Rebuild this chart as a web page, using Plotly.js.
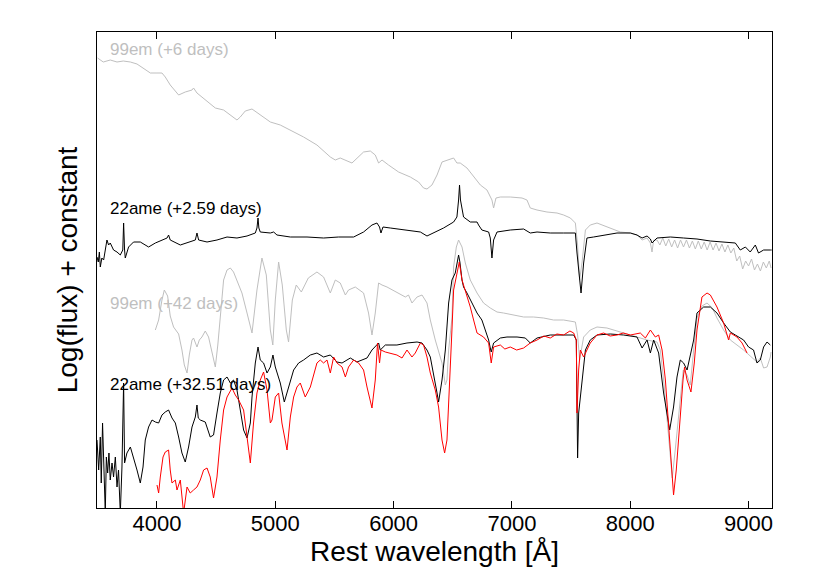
<!DOCTYPE html>
<html>
<head>
<meta charset="utf-8">
<script src="https://cdn.plot.ly/plotly-3.0.1.min.js"></script>
<style>html,body{margin:0;padding:0;background:#fff;}#chart{width:830px;height:581px;}</style>
</head>
<body>
<div id="chart"></div>
<script>
// SN 1999em (+6 days)
const wl_99em_6d = [3498,3546,3605,3662,3715,3775,3831,3884,3944,4000,4042,4070,4112,4183,4239,4296,4309,4338,4408,4493,4563,4620,4676,4704,4746,4803,4873,4958,5042,5127,5239,5352,5465,5507,5549,5648,5690,5746,5803,5845,5873,5902,5957,6042,6141,6211,6253,6282,6324,6367,6409,6451,6507,6535,6563,6620,6676,6733,6789,6831,6845,6865,6902,6986,7085,7127,7155,7212,7296,7381,7437,7494,7536,7555,7572,7593,7621,7662,7719,7831,7916,8001,8057,8100,8142,8170,8184,8198,8226,8250,8275,8300,8325,8350,8375,8400,8425,8450,8475,8500,8525,8550,8575,8600,8625,8650,8675,8700,8725,8750,8775,8800,8825,8850,8875,8900,8925,8950,8975,9000,9025,9050,9075,9100,9125,9150,9175,9190];
const flux_99em_6d = [4.50,4.46,4.48,4.46,4.47,4.46,4.44,4.40,4.35,4.35,4.35,4.31,4.23,4.13,4.16,4.18,4.20,4.15,4.08,4.00,3.98,3.93,3.88,3.91,3.97,3.99,3.93,3.86,3.83,3.78,3.71,3.63,3.51,3.48,3.50,3.45,3.50,3.56,3.57,3.53,3.45,3.48,3.43,3.36,3.31,3.26,3.20,3.19,3.23,3.33,3.46,3.48,3.50,3.45,3.45,3.40,3.31,3.23,3.18,3.08,3.00,3.10,3.11,3.11,3.10,3.08,3.00,2.98,2.96,2.95,2.93,2.90,2.85,2.63,2.28,2.46,2.78,2.83,2.85,2.80,2.76,2.75,2.73,2.68,2.70,2.65,2.56,2.68,2.68,2.63,2.70,2.62,2.69,2.61,2.68,2.60,2.68,2.61,2.68,2.60,2.67,2.59,2.67,2.59,2.66,2.58,2.66,2.58,2.65,2.57,2.64,2.56,2.63,2.55,2.60,2.47,2.52,2.39,2.47,2.42,2.49,2.38,2.44,2.37,2.46,2.40,2.47,2.40];

// SN 2022ame (+2.59 days)
const wl_22ame_259d = [3493,3504,3513,3521,3534,3549,3577,3591,3605,3633,3662,3690,3711,3718,3726,3732,3760,3802,3859,3929,3986,4042,4085,4098,4112,4197,4281,4324,4338,4352,4423,4507,4592,4676,4761,4831,4845,4854,4861,4873,4958,4986,5014,5127,5268,5408,5535,5662,5746,5817,5859,5881,5893,5910,5972,6084,6226,6282,6338,6422,6507,6535,6549,6557,6565,6572,6580,6591,6648,6705,6718,6746,6803,6817,6831,6845,6874,6986,7099,7155,7212,7324,7437,7536,7550,7572,7584,7606,7634,7690,7775,7888,8001,8057,8100,8142,8170,8184,8226,8339,8451,8564,8677,8789,8888,8930,8973,9014,9057,9084,9127,9184,9195];
const flux_22ame_259d = [2.51,2.46,2.56,2.41,2.50,2.48,2.68,2.63,2.65,2.58,2.56,2.53,2.58,2.85,2.58,2.50,2.61,2.66,2.66,2.61,2.65,2.68,2.70,2.73,2.68,2.63,2.66,2.68,2.75,2.68,2.66,2.68,2.71,2.70,2.72,2.75,2.80,2.90,2.80,2.76,2.75,2.76,2.73,2.71,2.71,2.70,2.71,2.71,2.76,2.83,2.85,2.81,2.75,2.81,2.80,2.78,2.76,2.72,2.75,2.80,2.86,2.91,3.08,3.23,3.08,3.03,3.00,2.91,2.86,2.86,2.83,2.78,2.76,2.70,2.50,2.68,2.76,2.78,2.79,2.75,2.76,2.75,2.75,2.75,2.55,2.28,2.15,2.45,2.70,2.71,2.73,2.75,2.75,2.73,2.70,2.72,2.69,2.65,2.70,2.71,2.70,2.69,2.67,2.66,2.65,2.58,2.61,2.56,2.63,2.55,2.58,2.58,2.58];

// SN 1999em (+42 days)
const wl_99em_42d = [3986,4014,4042,4062,4090,4112,4140,4183,4211,4231,4254,4273,4296,4309,4338,4358,4380,4408,4436,4459,4493,4514,4535,4563,4592,4620,4647,4676,4718,4761,4803,4845,4887,4924,4958,4979,5000,5028,5059,5093,5112,5144,5177,5220,5279,5352,5408,5465,5507,5549,5592,5619,5676,5746,5788,5817,5845,5873,5902,5944,6028,6099,6126,6155,6198,6240,6282,6310,6352,6409,6437,6451,6465,6493,6507,6530,6549,6578,6606,6648,6705,6760,6817,6874,6929,7014,7099,7183,7268,7352,7437,7536,7555,7572,7593,7606,7662,7719,7803,7916,8057,8142,8226,8254,8282,8322,8355,8380,8414,8448,8480,8507,8536,8564,8606,8649,8694,8733,8789,8846,8902,8958,9014,9071,9099,9127,9156,9184,9190];
const flux_99em_42d = [1.78,1.88,2.08,2.18,2.12,1.92,1.81,1.74,1.58,1.43,1.35,1.53,1.68,1.70,1.61,1.68,1.71,1.77,1.71,1.60,1.41,1.63,1.95,2.28,2.38,2.40,2.36,2.28,2.15,1.95,1.75,2.18,2.50,2.33,1.78,1.63,2.08,2.46,2.23,1.78,1.66,2.08,2.23,2.16,2.30,2.36,2.31,2.15,2.28,2.25,2.13,2.18,2.21,2.15,1.95,1.73,1.95,2.25,2.23,2.21,2.16,2.11,2.13,2.05,2.11,2.13,2.05,1.88,1.68,1.45,1.23,1.28,1.58,1.90,2.41,2.61,2.68,2.61,2.45,2.28,2.15,2.05,2.00,1.96,1.95,1.93,1.91,1.91,1.90,1.88,1.88,1.86,1.73,1.48,1.63,1.71,1.78,1.81,1.80,1.76,1.71,1.68,1.66,1.58,1.28,0.78,0.30,0.58,0.98,1.38,1.33,1.23,1.58,1.90,2.02,2.05,2.00,1.90,1.78,1.68,1.63,1.58,1.52,1.46,1.50,1.40,1.41,1.51,1.56];

// SN 2022ame (+32.51 days)
const wl_22ame_3251d = [3493,3507,3521,3529,3540,3549,3563,3572,3583,3594,3605,3620,3633,3648,3662,3675,3690,3704,3718,3726,3746,3775,3802,3831,3859,3882,3901,3929,3958,3986,4014,4042,4070,4098,4127,4155,4183,4211,4239,4267,4296,4324,4338,4349,4366,4408,4450,4478,4507,4535,4563,4592,4620,4647,4676,4704,4732,4761,4789,4803,4831,4854,4873,4901,4930,4958,4980,5000,5042,5076,5112,5155,5197,5239,5296,5352,5408,5465,5521,5564,5634,5690,5775,5817,5873,5887,5930,6028,6113,6198,6240,6282,6310,6338,6367,6380,6409,6437,6465,6493,6521,6549,6560,6578,6591,6620,6662,6705,6746,6775,6803,6817,6825,6845,6902,6958,7043,7113,7155,7212,7324,7437,7522,7544,7555,7564,7578,7593,7621,7662,7719,7831,7944,8057,8100,8142,8170,8198,8240,8282,8311,8333,8366,8395,8423,8451,8480,8507,8536,8564,8620,8677,8733,8789,8846,8888,8958,9000,9042,9071,9099,9127,9156,9184];
const flux_22ame_3251d = [0.68,0.38,0.71,0.25,0.85,0.45,-0.05,0.51,0.35,0.55,0.28,0.45,0.31,0.51,0.21,0.38,-0.05,0.41,1.25,0.45,0.55,0.61,0.51,0.38,0.25,0.41,0.68,0.81,0.88,0.86,0.85,0.93,0.96,0.98,0.90,0.85,0.71,0.55,0.46,0.61,0.81,0.91,1.03,0.90,0.88,0.86,0.71,0.73,0.95,1.15,1.28,1.31,1.25,1.28,1.18,0.98,0.78,0.70,0.85,1.11,1.45,1.61,1.48,1.45,1.35,1.41,1.53,1.41,1.25,1.06,1.21,1.38,1.45,1.48,1.53,1.55,1.51,1.53,1.46,1.45,1.50,1.46,1.50,1.58,1.65,1.58,1.63,1.63,1.65,1.66,1.65,1.58,1.51,1.35,1.15,1.06,1.28,1.58,2.05,2.28,2.35,2.53,2.46,2.28,2.21,2.15,2.05,1.95,1.88,1.78,1.68,1.60,1.56,1.65,1.70,1.71,1.71,1.70,1.65,1.70,1.73,1.73,1.73,1.68,0.50,0.95,1.11,1.28,1.58,1.68,1.73,1.74,1.73,1.71,1.60,1.68,1.55,1.68,1.55,1.15,0.91,0.78,1.01,1.31,1.48,1.45,1.38,1.51,1.68,1.95,2.01,2.01,1.95,1.85,1.76,1.73,1.68,1.61,1.58,1.45,1.48,1.61,1.66,1.63];

// comparison spectrum (red)
const wl_red = [4000,4014,4028,4051,4070,4098,4112,4127,4155,4169,4197,4225,4254,4281,4309,4338,4366,4394,4423,4450,4478,4507,4535,4563,4592,4634,4662,4690,4732,4761,4789,4816,4845,4873,4901,4930,4958,4972,5000,5028,5056,5099,5127,5155,5183,5211,5253,5296,5352,5380,5408,5437,5465,5493,5521,5564,5592,5619,5662,5704,5746,5775,5817,5845,5864,5881,5893,5930,5972,6028,6071,6113,6155,6183,6226,6253,6282,6310,6352,6380,6409,6431,6451,6465,6493,6507,6535,6555,6578,6606,6648,6676,6705,6760,6803,6825,6845,6902,6940,6986,7040,7099,7155,7212,7270,7324,7380,7437,7490,7522,7544,7550,7564,7578,7606,7634,7662,7719,7775,7830,7888,7940,8001,8085,8128,8170,8212,8240,8269,8297,8325,8353,8366,8389,8417,8446,8459,8480,8513,8541,8564,8606,8649,8677,8733,8789,8831,8846,8902,8945,8987];
const flux_red = [0.23,0.15,0.31,0.51,0.56,0.58,0.38,0.25,0.28,0.18,0.28,-0.05,0.21,0.15,0.18,0.21,0.28,0.38,0.40,0.31,0.10,0.31,0.68,0.98,1.11,1.20,1.13,1.08,0.98,0.71,0.45,0.85,1.15,1.28,1.36,1.18,0.85,0.88,1.11,1.15,0.85,0.58,0.91,1.11,1.21,1.25,1.11,1.21,1.45,1.48,1.45,1.48,1.35,1.51,1.45,1.41,1.31,1.41,1.48,1.45,1.38,1.21,1.00,1.28,1.65,1.45,1.58,1.56,1.55,1.53,1.50,1.58,1.51,1.55,1.65,1.63,1.51,1.35,1.18,1.01,0.68,0.55,0.68,1.11,1.78,2.18,2.36,2.46,2.28,2.18,2.01,1.88,1.75,1.71,1.65,1.45,1.61,1.63,1.59,1.61,1.58,1.60,1.65,1.68,1.72,1.70,1.74,1.73,1.77,1.75,1.68,0.95,1.38,1.58,1.51,1.58,1.65,1.73,1.75,1.72,1.73,1.75,1.73,1.75,1.70,1.78,1.71,1.73,1.58,1.28,0.78,0.28,0.13,0.38,0.85,1.28,1.41,1.28,1.16,1.45,1.78,2.11,2.15,2.13,2.01,1.85,1.68,1.75,1.71,1.65,1.55];

const xTicks = [4000,5000,6000,7000,8000,9000];
const labels = ["99em (+6 days)","22ame (+2.59 days)","99em (+42 days)","22ame (+32.51 days)"];
const labelX = [3588,3590,3590,3590];
const labelY = [4.59,3.00,2.05,1.24];
const labelColors = ["#bfbfbf","#000000","#bfbfbf","#000000"];

const FONT = "Liberation Sans, Arial, Helvetica, sans-serif";
function tr(x,y,c){return {x:x,y:y,type:'scatter',mode:'lines',line:{color:c,width:1},hoverinfo:'skip'};}
const data = [
  tr(wl_99em_6d, flux_99em_6d, '#bfbfbf'),
  tr(wl_99em_42d, flux_99em_42d, '#bfbfbf'),
  tr(wl_22ame_259d, flux_22ame_259d, '#000000'),
  tr(wl_22ame_3251d, flux_22ame_3251d, '#000000'),
  tr(wl_red, flux_red, '#ff0000')
];
const annotations = labels.map((t,i)=>({x:labelX[i],y:labelY[i],xref:'x',yref:'y',text:t,showarrow:false,xanchor:'left',yanchor:'middle',font:{family:FONT,size:17,color:labelColors[i]}}));
const layout = {
  width:830,height:581,
  margin:{l:97,r:58,t:32,b:73},
  paper_bgcolor:'#fff',plot_bgcolor:'#fff',
  showlegend:false,
  font:{family:FONT,color:'#000'},
  xaxis:{range:[3493,9198],tickvals:xTicks,ticktext:xTicks.map(String),ticks:'inside',ticklen:7,tickwidth:1,tickcolor:'#000',
    showline:true,linecolor:'#000',linewidth:1,mirror:'ticks',showgrid:false,zeroline:false,
    ticklabelstandoff:-4,
    tickfont:{family:FONT,size:22,color:'#000'},
    title:{text:'Rest wavelength [Å]',font:{family:FONT,size:28,color:'#000'},standoff:4}},
  yaxis:{range:[0,4.76],showticklabels:false,ticks:'',showline:true,linecolor:'#000',linewidth:1,mirror:true,showgrid:false,zeroline:false,
    title:{text:'Log(flux) + constant',font:{family:FONT,size:28,color:'#000'},standoff:10}},
  annotations:annotations
};
Plotly.newPlot('chart',data,layout,{staticPlot:true,displayModeBar:false});
</script>
</body>
</html>
